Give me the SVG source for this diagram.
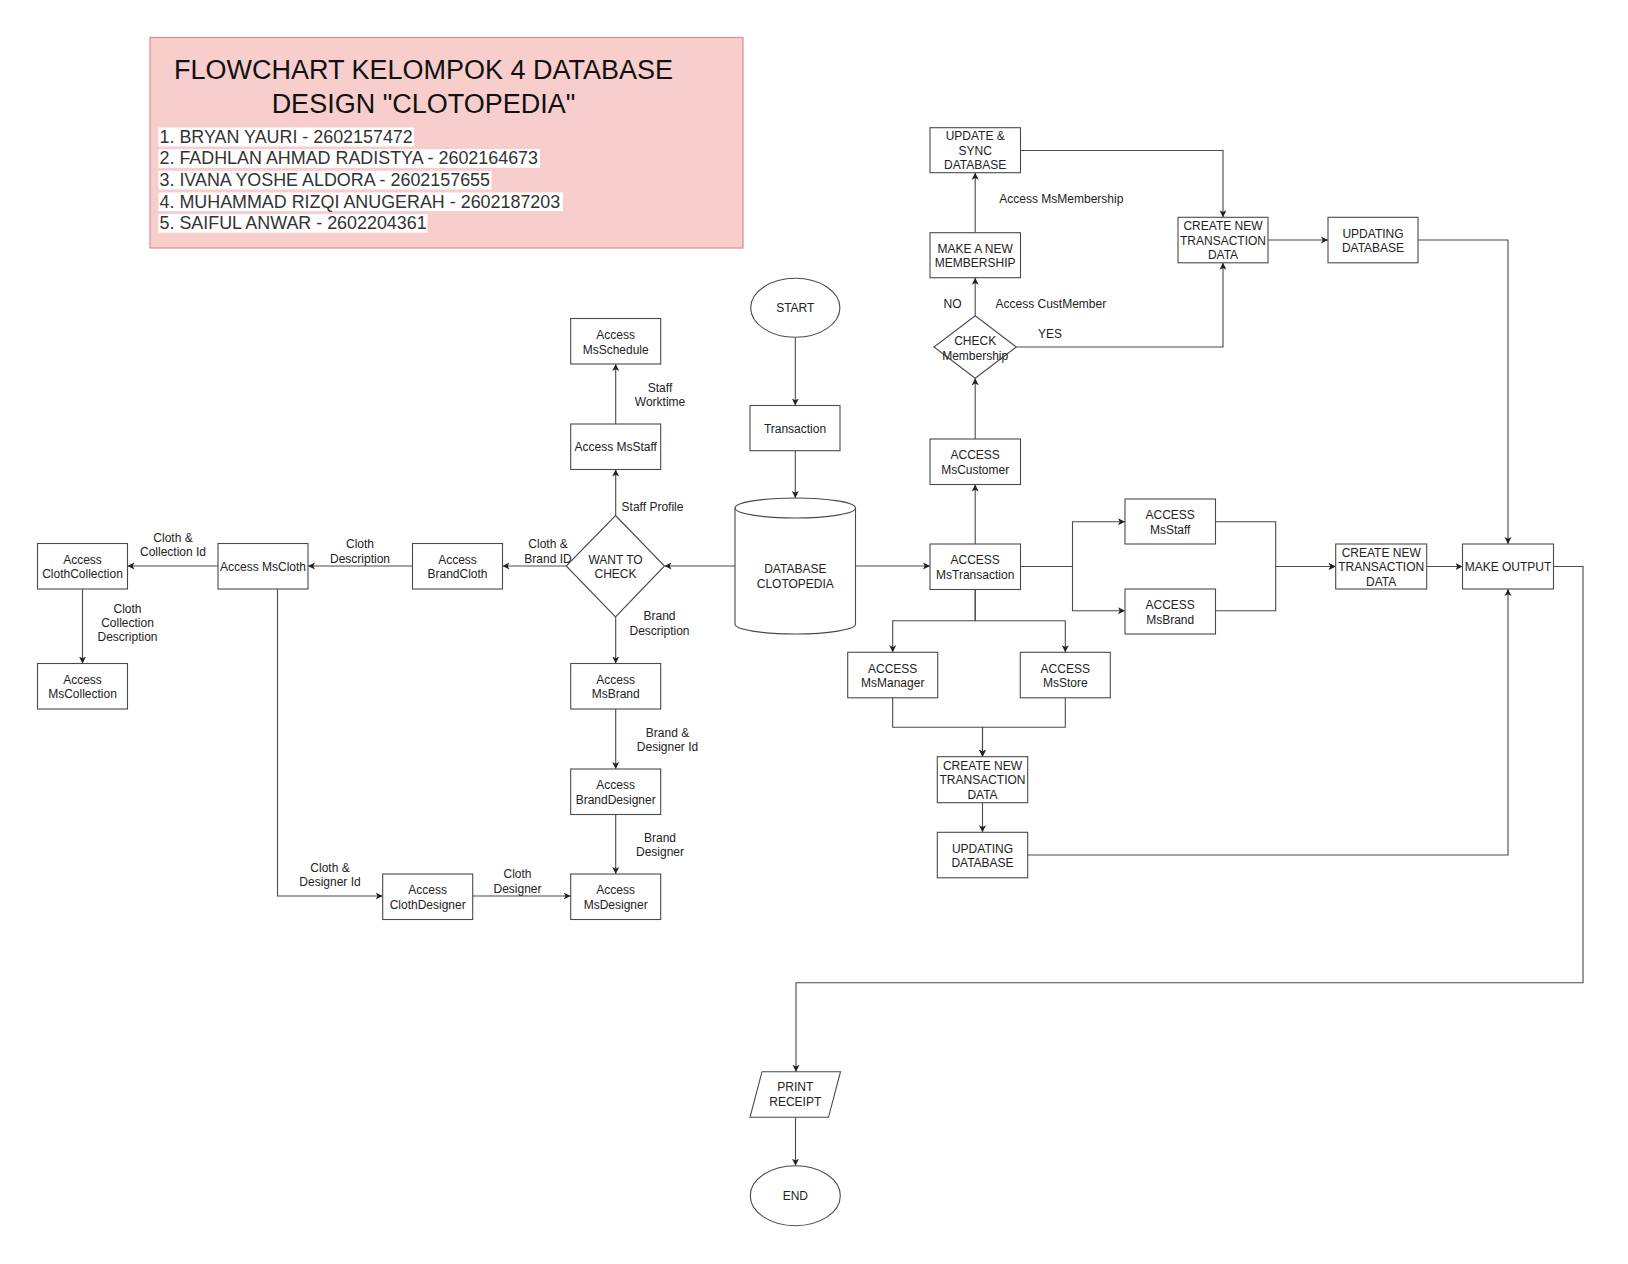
<svg xmlns="http://www.w3.org/2000/svg" width="1628" height="1264" viewBox="0 0 1628 1264">
<style>
.n{fill:#fff;stroke:#4a4a4a;stroke-width:1.1}
.t{font-family:"Liberation Sans",Arial,sans-serif;font-size:12px;fill:#222;text-anchor:middle}
.l{font-family:"Liberation Sans",Arial,sans-serif;font-size:12px;fill:#222}
.e{fill:none;stroke:#4a4a4a;stroke-width:1.1;marker-end:url(#arr)}
.p{fill:none;stroke:#4a4a4a;stroke-width:1.1}
.m{font-family:"Liberation Sans",Arial,sans-serif;font-size:17.9px;fill:#333}
.hl{fill:#fff}
</style>
<defs>
<marker id="arr" markerUnits="userSpaceOnUse" markerWidth="10" markerHeight="10" refX="7" refY="4" orient="auto">
<path d="M0,0.5 L7,4 L0,7.5 L1.8,4 z" fill="#222"/>
</marker>
</defs>
<rect width="1628" height="1264" fill="#fff"/>

<g id="title">
<rect x="150" y="37.5" width="593" height="210.5" fill="#f8cecc" stroke="#d9908c" stroke-width="1.2"/>
<text x="423.5" y="79.3" style="font-family:'Liberation Sans',Arial,sans-serif;font-size:27px;fill:#111;text-anchor:middle">FLOWCHART KELOMPOK 4 DATABASE</text>
<text x="423.5" y="112.7" style="font-family:'Liberation Sans',Arial,sans-serif;font-size:27px;fill:#111;text-anchor:middle">DESIGN "CLOTOPEDIA"</text>
<rect class="hl" x="158.5" y="127.5" width="255.5" height="19"/>
<rect class="hl" x="158.5" y="149.2" width="381.5" height="18.6"/>
<rect class="hl" x="158.5" y="170.8" width="333" height="18.6"/>
<rect class="hl" x="158.5" y="192.5" width="404.5" height="18.6"/>
<rect class="hl" x="158.5" y="214.1" width="269" height="18.6"/>
<text class="m" x="159.5" y="142.7">1. BRYAN YAURI - 2602157472</text>
<text class="m" x="159.5" y="164.3">2. FADHLAN AHMAD RADISTYA - 2602164673</text>
<text class="m" x="159.5" y="186">3. IVANA YOSHE ALDORA - 2602157655</text>
<text class="m" x="159.5" y="207.7">4. MUHAMMAD RIZQI ANUGERAH - 2602187203</text>
<text class="m" x="159.5" y="229.3">5. SAIFUL ANWAR - 2602204361</text>
</g>

<g id="connectors">
<path class="e" d="M795.3,337.4 V405.5"/>
<path class="e" d="M795.3,450.7 V498"/>
<path class="e" d="M735,566 H664.5"/>
<path class="e" d="M855.5,566 H930"/>
<path class="e" d="M615.7,515.5 V469.5"/>
<path class="e" d="M615.7,424 V364"/>
<path class="e" d="M615.7,617 V663.5"/>
<path class="e" d="M615.7,709 V769"/>
<path class="e" d="M615.7,814.5 V874"/>
<path class="e" d="M566.2,566 H502.5"/>
<path class="e" d="M412.5,566 H308"/>
<path class="e" d="M218,566 H127.5"/>
<path class="e" d="M82.5,589 V663.5"/>
<path class="e" d="M277.5,589 V896 H382.7"/>
<path class="e" d="M472.7,896 H570.7"/>
<path class="e" d="M975.2,544 V484.5"/>
<path class="e" d="M975.2,439 V378.3"/>
<path class="e" d="M975.2,315.7 V277.7"/>
<path class="e" d="M975.2,232.7 V172.7"/>
<path class="e" d="M1020.5,150.5 H1223 V217.3"/>
<path class="e" d="M1016.3,347 H1223 V262.8"/>
<path class="e" d="M1268,240 H1328"/>
<path class="e" d="M1418,240 H1508 V544"/>
<path class="e" d="M1020.5,566.5 H1072.5 V521.7 H1125"/>
<path class="e" d="M1020.5,566.5 H1072.5 V610.7 H1125"/>
<path class="e" d="M1215.5,521.7 H1275.7 V566.5 H1335.7"/>
<path class="e" d="M1215.5,610.7 H1275.7 V566.5 H1335.7"/>
<path class="e" d="M1426.7,566.5 H1462.5"/>
<path class="e" d="M975.2,589.5 V620.7 H892.7 V652.3"/>
<path class="e" d="M975.2,589.5 V620.7 H1065.3 V652.3"/>
<path class="e" d="M892.7,697.8 V727.3 H982.5 V756.7"/>
<path class="e" d="M1065.3,697.8 V727.3 H982.5 V756.7"/>
<path class="e" d="M982.5,802.7 V832.3"/>
<path class="e" d="M1027.7,855 H1508 V589"/>
<path class="e" d="M1553.5,566.5 H1583 V982.7 H796 V1071.7"/>
<path class="e" d="M795.5,1117.3 V1165.7"/>

<text class="t" x="652.5" y="511">Staff Profile</text>
<text class="t" x="660" y="391.5">Staff</text>
<text class="t" x="660" y="406">Worktime</text>
<text class="t" x="659.5" y="620">Brand</text>
<text class="t" x="659.5" y="635">Description</text>
<text class="t" x="667.5" y="736.7">Brand &amp;</text>
<text class="t" x="667.5" y="751">Designer Id</text>
<text class="t" x="660" y="841.7">Brand</text>
<text class="t" x="660" y="856">Designer</text>
<text class="t" x="548" y="548">Cloth &amp;</text>
<text class="t" x="548" y="562.5">Brand ID</text>
<text class="t" x="360" y="548">Cloth</text>
<text class="t" x="360" y="562.5">Description</text>
<text class="t" x="173" y="541.7">Cloth &amp;</text>
<text class="t" x="173" y="556.3">Collection Id</text>
<text class="t" x="127.5" y="613">Cloth</text>
<text class="t" x="127.5" y="627">Collection</text>
<text class="t" x="127.5" y="641">Description</text>
<text class="t" x="330" y="871.7">Cloth &amp;</text>
<text class="t" x="330" y="886">Designer Id</text>
<text class="t" x="517.5" y="878">Cloth</text>
<text class="t" x="517.5" y="892.5">Designer</text>
<text class="l" x="999.3" y="203">Access MsMembership</text>
<text class="t" x="952.5" y="308">NO</text>
<text class="l" x="995.5" y="308">Access CustMember</text>
<text class="t" x="1050" y="338.3">YES</text>
</g>

<g id="start">
<ellipse class="n" cx="795.3" cy="307.8" rx="44.6" ry="29.5"/>
<text class="t" x="795.3" y="312.3">START</text>
</g>
<g id="transaction">
<rect class="n" x="750" y="405.5" width="90" height="45.2"/>
<text class="t" x="795" y="432.5">Transaction</text>
</g>
<g id="database">
<path class="n" d="M735,508 A60,10 0 0 1 855.5,508 V624 A60,10 0 0 1 735,624 Z"/>
<path class="p" d="M735,508 A60,10 0 0 0 855.5,508"/>
<text class="t" x="795.3" y="573.3">DATABASE</text>
<text class="t" x="795.3" y="588.3">CLOTOPEDIA</text>
</g>
<g id="want-to-check">
<path class="n" d="M615.5,515.5 L664.5,566 L615.5,617 L566.2,566 Z"/>
<text class="t" x="615.5" y="564">WANT TO</text>
<text class="t" x="615.5" y="578.3">CHECK</text>
</g>
<g id="ms-schedule">
<rect class="n" x="570.7" y="318.5" width="90" height="45.5"/>
<text class="t" x="615.7" y="339">Access</text>
<text class="t" x="615.7" y="353.5">MsSchedule</text>
</g>
<g id="ms-staff-left">
<rect class="n" x="570.7" y="424" width="90" height="45.5"/>
<text class="t" x="615.7" y="451">Access MsStaff</text>
</g>
<g id="ms-brand-left">
<rect class="n" x="570.7" y="663.5" width="90" height="45.5"/>
<text class="t" x="615.7" y="683.7">Access</text>
<text class="t" x="615.7" y="698.2">MsBrand</text>
</g>
<g id="brand-designer">
<rect class="n" x="570.7" y="769" width="90" height="45.5"/>
<text class="t" x="615.7" y="789.3">Access</text>
<text class="t" x="615.7" y="803.8">BrandDesigner</text>
</g>
<g id="ms-designer">
<rect class="n" x="570.7" y="874" width="90" height="45.5"/>
<text class="t" x="615.7" y="894.3">Access</text>
<text class="t" x="615.7" y="908.8">MsDesigner</text>
</g>
<g id="brand-cloth">
<rect class="n" x="412.5" y="543.5" width="90" height="45.5"/>
<text class="t" x="457.5" y="563.7">Access</text>
<text class="t" x="457.5" y="578.2">BrandCloth</text>
</g>
<g id="ms-cloth">
<rect class="n" x="218" y="543.5" width="90" height="45.5"/>
<text class="t" x="263" y="570.7">Access MsCloth</text>
</g>
<g id="cloth-collection">
<rect class="n" x="37.5" y="543.5" width="90" height="45.5"/>
<text class="t" x="82.5" y="563.7">Access</text>
<text class="t" x="82.5" y="578.2">ClothCollection</text>
</g>
<g id="ms-collection">
<rect class="n" x="37.5" y="663.5" width="90" height="45.5"/>
<text class="t" x="82.5" y="683.7">Access</text>
<text class="t" x="82.5" y="698.2">MsCollection</text>
</g>
<g id="cloth-designer">
<rect class="n" x="382.7" y="874" width="90" height="45.5"/>
<text class="t" x="427.7" y="894.3">Access</text>
<text class="t" x="427.7" y="908.8">ClothDesigner</text>
</g>

<g id="update-sync">
<rect class="n" x="930" y="127.7" width="90.5" height="45"/>
<text class="t" x="975.2" y="140">UPDATE &amp;</text>
<text class="t" x="975.2" y="154.5">SYNC</text>
<text class="t" x="975.2" y="169">DATABASE</text>
</g>
<g id="make-membership">
<rect class="n" x="930" y="232.7" width="90.5" height="45"/>
<text class="t" x="975.2" y="252.8">MAKE A NEW</text>
<text class="t" x="975.2" y="267.3">MEMBERSHIP</text>
</g>
<g id="check-membership">
<path class="n" d="M975.2,315.7 L1016.3,347 L975.2,378.3 L934,347 Z"/>
<text class="t" x="975.2" y="345">CHECK</text>
<text class="t" x="975.2" y="359.5">Membership</text>
</g>
<g id="ms-customer">
<rect class="n" x="930" y="439" width="90.5" height="45.5"/>
<text class="t" x="975.2" y="459.2">ACCESS</text>
<text class="t" x="975.2" y="473.7">MsCustomer</text>
</g>
<g id="ms-transaction">
<rect class="n" x="930" y="544" width="90.5" height="45.5"/>
<text class="t" x="975.2" y="564.2">ACCESS</text>
<text class="t" x="975.2" y="578.7">MsTransaction</text>
</g>
<g id="create-top">
<rect class="n" x="1178" y="217.3" width="90" height="45.5"/>
<text class="t" x="1223" y="230">CREATE NEW</text>
<text class="t" x="1223" y="244.5">TRANSACTION</text>
<text class="t" x="1223" y="259">DATA</text>
</g>
<g id="updating-top">
<rect class="n" x="1328" y="217.3" width="90" height="45.5"/>
<text class="t" x="1373" y="237.5">UPDATING</text>
<text class="t" x="1373" y="252">DATABASE</text>
</g>
<g id="ms-staff-right">
<rect class="n" x="1125" y="499" width="90.5" height="45"/>
<text class="t" x="1170.2" y="519">ACCESS</text>
<text class="t" x="1170.2" y="533.5">MsStaff</text>
</g>
<g id="ms-brand-right">
<rect class="n" x="1125" y="589" width="90.5" height="45"/>
<text class="t" x="1170.2" y="609">ACCESS</text>
<text class="t" x="1170.2" y="623.5">MsBrand</text>
</g>
<g id="create-mid">
<rect class="n" x="1335.7" y="544" width="91" height="45"/>
<text class="t" x="1381.2" y="556.5">CREATE NEW</text>
<text class="t" x="1381.2" y="571">TRANSACTION</text>
<text class="t" x="1381.2" y="585.5">DATA</text>
</g>
<g id="make-output">
<rect class="n" x="1462.5" y="544" width="91" height="45"/>
<text class="t" x="1508" y="571">MAKE OUTPUT</text>
</g>
<g id="ms-manager">
<rect class="n" x="847.7" y="652.3" width="90" height="45.5"/>
<text class="t" x="892.7" y="672.5">ACCESS</text>
<text class="t" x="892.7" y="687">MsManager</text>
</g>
<g id="ms-store">
<rect class="n" x="1020.3" y="652.3" width="90" height="45.5"/>
<text class="t" x="1065.3" y="672.5">ACCESS</text>
<text class="t" x="1065.3" y="687">MsStore</text>
</g>
<g id="create-bottom">
<rect class="n" x="937.3" y="756.7" width="90.4" height="46"/>
<text class="t" x="982.5" y="769.5">CREATE NEW</text>
<text class="t" x="982.5" y="784">TRANSACTION</text>
<text class="t" x="982.5" y="798.5">DATA</text>
</g>
<g id="updating-bottom">
<rect class="n" x="937.3" y="832.3" width="90.4" height="45.5"/>
<text class="t" x="982.5" y="852.5">UPDATING</text>
<text class="t" x="982.5" y="867">DATABASE</text>
</g>
<g id="print-receipt">
<path class="n" d="M762,1071.7 H840.5 L828.5,1117.3 H750 Z"/>
<text class="t" x="795.3" y="1090.7">PRINT</text>
<text class="t" x="795.3" y="1105.5">RECEIPT</text>
</g>
<g id="end">
<ellipse class="n" cx="795.3" cy="1195.7" rx="45" ry="30"/>
<text class="t" x="795.3" y="1200">END</text>
</g>
</svg>
